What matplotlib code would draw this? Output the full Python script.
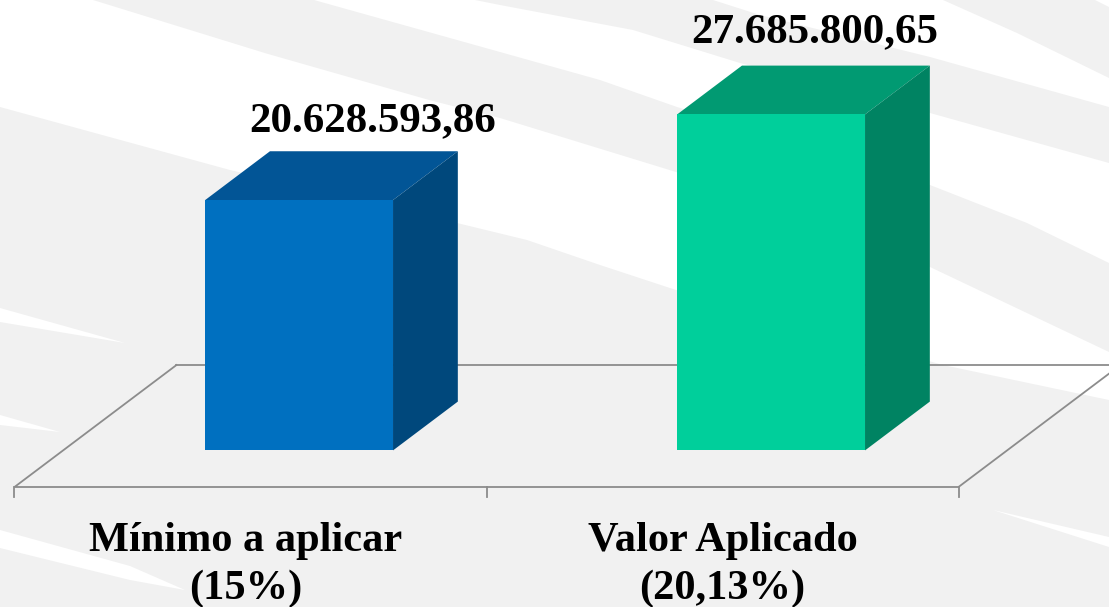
#!/usr/bin/env python3
# -*- coding: utf-8 -*-
"""Mínimo a aplicar x Valor Aplicado: duas colunas com falso 3D sobre fundo listrado."""
import matplotlib
matplotlib.use("Agg")
import matplotlib.pyplot as plt
from matplotlib.patches import Polygon

categories = ["Mínimo a aplicar\n(15%)", "Valor Aplicado\n(20,13%)"]
values = [20628593.86, 27685800.65]
value_labels = ["20.628.593,86", "27.685.800,65"]

FRONT = ["#0070c0", "#00cf9b"]
TOP = ["#025596", "#019a72"]
SIDE = ["#00487c", "#008362"]
BG = "#f1f1f1"
AXIS = "#8c8c8c"
INK = "#000000"

W, H = 1109, 607

# faixas brancas do fundo, em pixels da imagem
STREAKS = [
    [(0, 0), (93, 0), (268, 54), (429, 100), (500, 118), (676, 172), (930, 267), (1109, 352),
     (1109, 400), (943, 365), (676, 290), (600, 265), (527, 240), (457, 223), (230, 170), (0, 107)],
    [(314, 0), (475, 0), (500, 5), (633, 30), (740, 63), (930, 113), (1109, 163),
     (1109, 263), (1027, 223), (930, 185), (677, 107), (600, 80), (500, 52)],
    [(713, 0), (943, 0), (1017, 33), (1109, 78), (1109, 107), (930, 57), (760, 15)],
    [(1095, 0), (1109, 0), (1109, 7)],
    [(0, 308), (125, 343), (0, 322)],
    [(0, 415), (60, 432), (0, 425)],
    [(0, 530), (130, 566), (185, 590), (130, 580), (0, 548)],
    [(993, 510), (1109, 537), (1109, 547)],
]

px_per_cat = 472.0
y_scale = values[1] / 336.0      # valor por pixel
floor_dx = 162.0 / px_per_cat
floor_dy = 122.0 * y_scale
half_width = 0.199


def proj(x, v, depth):
    """Projeta (x, valor, profundidade 0-1) para as coordenadas do eixo."""
    return x + depth * floor_dx, v + depth * floor_dy


fig = plt.figure(figsize=(W / 100, H / 100), dpi=100)
ax = fig.add_axes([0, 0, 1, 1])
ax.set_xlim(-250.5 / px_per_cat, (W - 250.5) / px_per_cat)
ax.set_ylim(-(H - 487) * y_scale, 487 * y_scale)
ax.axis("off")
fig.patch.set_facecolor(BG)

for s in STREAKS:
    pts = [(x / W, 1 - y / H) for x, y in s]
    ax.add_patch(Polygon(pts, closed=True, transform=ax.transAxes, fc="white", ec="none", zorder=1))

# piso
x0, x1 = -0.5, len(values) - 0.5
floor = [proj(x0, 0, 1), proj(x0, 0, 0), proj(x1, 0, 0), proj(x1, 0, 1)]
ax.plot([p[0] for p in floor], [p[1] for p in floor], color=AXIS, lw=1.3, zorder=2)
ax.plot([floor[0][0], floor[3][0]], [floor[0][1], floor[3][1]], color=AXIS, lw=1.3, zorder=2)
for t in [x0, 0.5, x1]:
    ax.plot([t, t], [0, -10 * y_scale], color=AXIS, lw=1.3, zorder=2)

# colunas
d0, d1 = 0.3, 0.7
for i, v in enumerate(values):
    l, r = i - half_width, i + half_width
    ax.add_patch(Polygon([proj(l, 0, d0), proj(r, 0, d0), proj(r, v, d0), proj(l, v, d0)],
                         fc=FRONT[i], ec="none", zorder=5))
    ax.add_patch(Polygon([proj(l, v, d0), proj(r, v, d0), proj(r, v, d1), proj(l, v, d1)],
                         fc=TOP[i], ec="none", zorder=4))
    ax.add_patch(Polygon([proj(r, 0, d0), proj(r, 0, d1), proj(r, v, d1), proj(r, v, d0)],
                         fc=SIDE[i], ec="none", zorder=4))

font = dict(family="Liberation Serif", fontweight="bold", color=INK, zorder=6)

for i, (v, s) in enumerate(zip(values, value_labels)):
    nudge = (9 if i == 0 else -21) / px_per_cat
    tx, ty = proj(i + nudge, v, d1)
    ax.text(tx, ty + (20 if i == 0 else 23) * y_scale, s, ha="center", va="baseline", fontsize=31, **font)

for i, c in enumerate(categories):
    nudge = (-5 if i == 0 else 0) / px_per_cat
    ax.text(i + nudge, -112 * y_scale, c, ha="center", va="baseline", linespacing=1.32, fontsize=30.5, **font)

fig.savefig("out.png", dpi=100, facecolor=BG)
plt.close(fig)
